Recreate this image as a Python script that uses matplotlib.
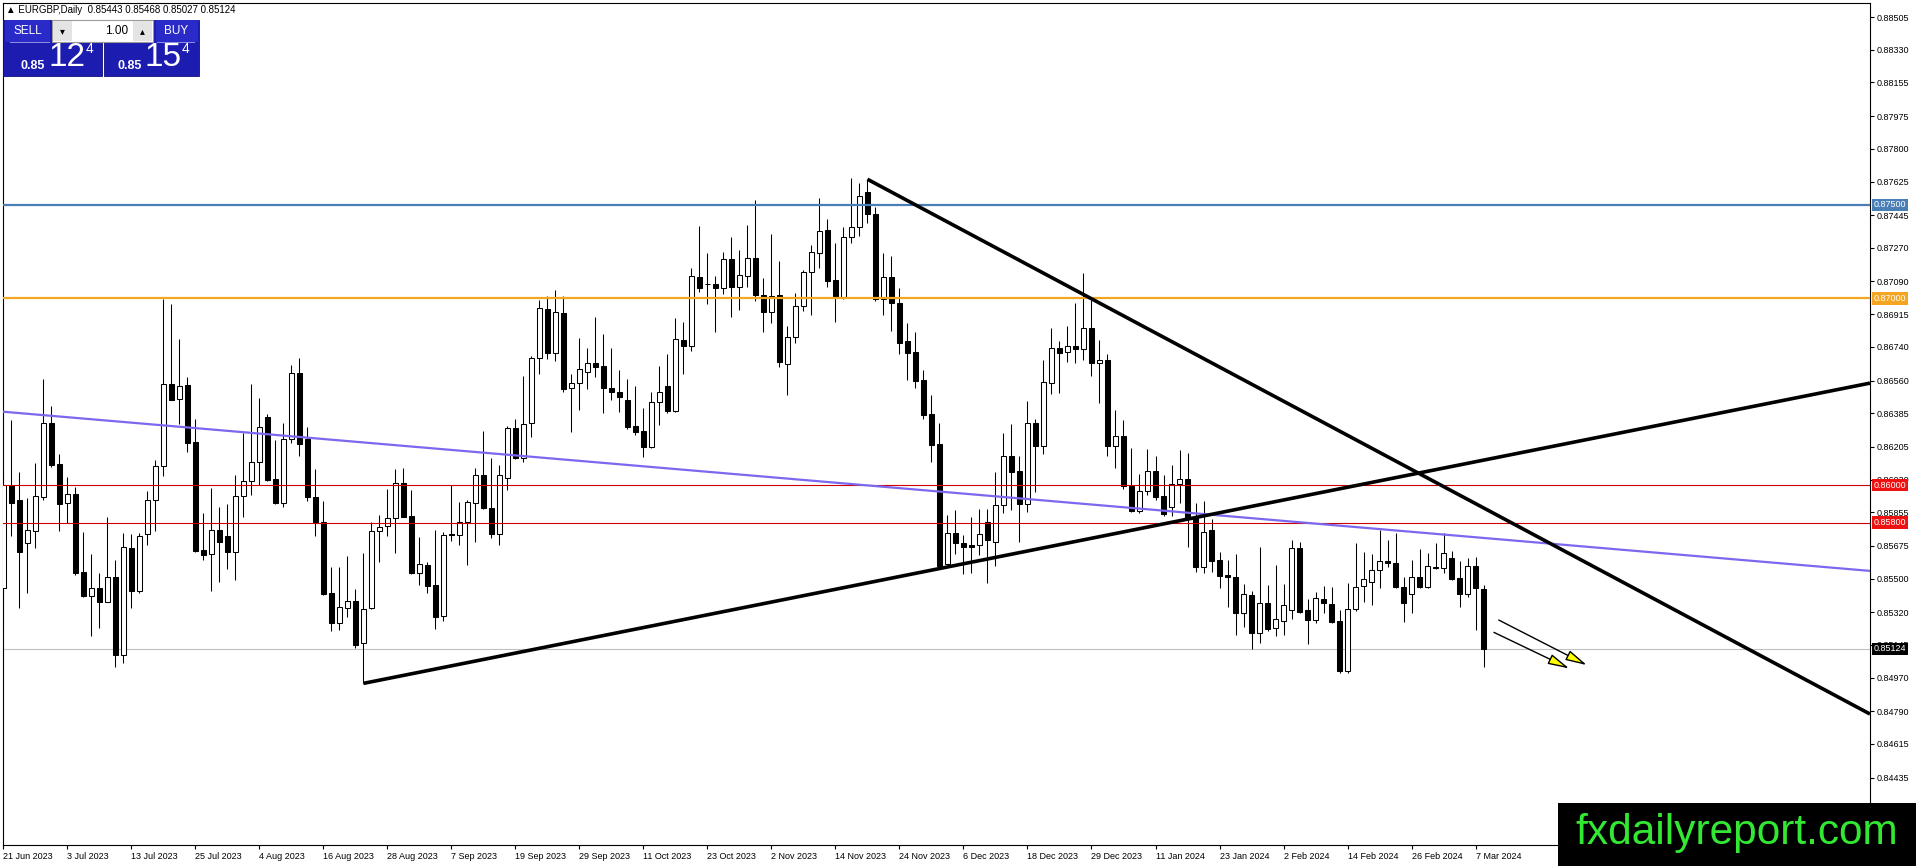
import matplotlib
matplotlib.use("Agg")
import matplotlib.pyplot as plt
from matplotlib.patches import Rectangle, FancyArrowPatch
import numpy as np
import pandas as pd

plt.rcParams['font.family'] = ['Liberation Sans', 'DejaVu Sans']


# trading days (MT4 has no Christmas / New Year bars)
dates = pd.bdate_range("2023-06-21", "2024-03-08")
dates = dates[~dates.isin(pd.to_datetime(["2023-12-25", "2024-01-01"]))]

# OHLC
opens = [
    0.85450, 0.86000, 0.85918, 0.85690, 0.85757, 0.85939, 0.86332, 0.86114, 0.85907, 0.85952,
    0.85534, 0.85404, 0.85449, 0.85377, 0.85508, 0.85092, 0.85663, 0.85431, 0.85738, 0.85922,
    0.86100, 0.86541, 0.86460, 0.86535, 0.86230, 0.85654, 0.85632, 0.85761, 0.85728, 0.85644,
    0.85942, 0.86021, 0.86122, 0.86363, 0.86031, 0.85906, 0.86247, 0.86599, 0.86247, 0.85935,
    0.85805, 0.85421, 0.85264, 0.85341, 0.85382, 0.85154, 0.85341, 0.85757, 0.85783, 0.85822,
    0.86010, 0.85835, 0.85528, 0.85572, 0.85466, 0.85300, 0.85737, 0.85733, 0.85805, 0.85903,
    0.86055, 0.85876, 0.85737, 0.86037, 0.86305, 0.86144, 0.86331, 0.86679, 0.86943, 0.86709,
    0.86920, 0.86519, 0.86546, 0.86608, 0.86652, 0.86638, 0.86519, 0.86501, 0.86456, 0.86317,
    0.86290, 0.86206, 0.86443, 0.86531, 0.86399, 0.86777, 0.86747, 0.87113, 0.87075, 0.87075,
    0.87054, 0.87209, 0.87059, 0.87120, 0.87214, 0.87015, 0.86926, 0.87015, 0.86649, 0.86792,
    0.86961, 0.87140, 0.87241, 0.87366, 0.87098, 0.87006, 0.87327, 0.87380, 0.87571, 0.87450,
    0.86995, 0.87113, 0.86977, 0.86772, 0.86711, 0.86563, 0.86381, 0.86220, 0.85578, 0.85746,
    0.85689, 0.85680, 0.85680, 0.85805, 0.85698, 0.85894, 0.86156, 0.86077, 0.85899, 0.86331,
    0.86211, 0.86545, 0.86733, 0.86715, 0.86742, 0.86731, 0.86840, 0.86656, 0.86670, 0.86210,
    0.86264, 0.85995, 0.85863, 0.85970, 0.86078, 0.85942, 0.85881, 0.86004, 0.86031, 0.85828,
    0.85560, 0.85760, 0.85600, 0.85519, 0.85510, 0.85318, 0.85412, 0.85207, 0.85368, 0.85234,
    0.85275, 0.85332, 0.85662, 0.85332, 0.85278, 0.85390, 0.85363, 0.85273, 0.85007, 0.85336,
    0.85462, 0.85484, 0.85546, 0.85594, 0.85582, 0.85453, 0.85417, 0.85510, 0.85457, 0.85564,
    0.85555, 0.85608, 0.85501, 0.85416, 0.85569, 0.85443,
]
highs = [
    0.86060, 0.86350, 0.86071, 0.85930, 0.86121, 0.86569, 0.86425, 0.86168, 0.86043, 0.85989,
    0.85748, 0.85632, 0.85529, 0.85829, 0.85600, 0.85743, 0.85739, 0.85743, 0.85970, 0.86136,
    0.86996, 0.86971, 0.86782, 0.86578, 0.86353, 0.85850, 0.85984, 0.85882, 0.85899, 0.86055,
    0.86277, 0.86541, 0.86468, 0.86380, 0.86242, 0.86331, 0.86643, 0.86679, 0.86310, 0.86085,
    0.85917, 0.85560, 0.85564, 0.85621, 0.85443, 0.85639, 0.85805, 0.85840, 0.85978, 0.86085,
    0.86094, 0.85974, 0.85722, 0.85591, 0.85760, 0.85751, 0.86001, 0.85912, 0.85921, 0.86090,
    0.86292, 0.86144, 0.86108, 0.86314, 0.86353, 0.86585, 0.86690, 0.86991, 0.87013, 0.87045,
    0.87013, 0.86595, 0.86790, 0.86736, 0.86902, 0.86807, 0.86733, 0.86617, 0.86567, 0.86531,
    0.86412, 0.86501, 0.86635, 0.86702, 0.86893, 0.86872, 0.87161, 0.87387, 0.87241, 0.87120,
    0.87246, 0.87327, 0.87256, 0.87393, 0.87527, 0.87111, 0.87345, 0.87200, 0.86852, 0.87027,
    0.87152, 0.87286, 0.87536, 0.87423, 0.87295, 0.87380, 0.87643, 0.87616, 0.87637, 0.87491,
    0.87241, 0.87227, 0.87054, 0.86866, 0.86818, 0.86617, 0.86483, 0.86335, 0.85840, 0.85867,
    0.85734, 0.85831, 0.85871, 0.85871, 0.86072, 0.86281, 0.86327, 0.86156, 0.86451, 0.86352,
    0.86670, 0.86840, 0.86773, 0.86852, 0.86974, 0.87134, 0.86991, 0.86777, 0.86700, 0.86400,
    0.86350, 0.86197, 0.86060, 0.86192, 0.86156, 0.86054, 0.86108, 0.86188, 0.86174, 0.85906,
    0.85915, 0.85817, 0.85644, 0.85600, 0.85631, 0.85471, 0.85433, 0.85667, 0.85466, 0.85573,
    0.85471, 0.85706, 0.85698, 0.85389, 0.85430, 0.85460, 0.85453, 0.85332, 0.85475, 0.85689,
    0.85644, 0.85632, 0.85760, 0.85706, 0.85742, 0.85507, 0.85600, 0.85657, 0.85639, 0.85692,
    0.85746, 0.85649, 0.85594, 0.85608, 0.85617, 0.85468,
]
lows = [
    0.85240, 0.85729, 0.85345, 0.85422, 0.85666, 0.85918, 0.86095, 0.85752, 0.85797, 0.85520,
    0.85400, 0.85193, 0.85238, 0.85377, 0.85029, 0.85047, 0.85342, 0.85422, 0.85681, 0.85757,
    0.86050, 0.86453, 0.86328, 0.86180, 0.85640, 0.85597, 0.85431, 0.85484, 0.85552, 0.85493,
    0.85831, 0.85947, 0.86001, 0.86024, 0.85899, 0.85885, 0.86228, 0.86158, 0.85917, 0.85730,
    0.85410, 0.85221, 0.85225, 0.85296, 0.85127, 0.84939, 0.85336, 0.85591, 0.85730, 0.85639,
    0.85828, 0.85524, 0.85466, 0.85421, 0.85228, 0.85275, 0.85703, 0.85680, 0.85573, 0.85694,
    0.85870, 0.85716, 0.85680, 0.85975, 0.86139, 0.86126, 0.86260, 0.86595, 0.86674, 0.86667,
    0.86501, 0.86287, 0.86403, 0.86515, 0.86581, 0.86385, 0.86456, 0.86394, 0.86299, 0.86269,
    0.86149, 0.86197, 0.86322, 0.86385, 0.86390, 0.86593, 0.86720, 0.87031, 0.86970, 0.86817,
    0.87024, 0.86898, 0.86938, 0.87059, 0.86988, 0.86817, 0.86870, 0.86631, 0.86483, 0.86760,
    0.86934, 0.86911, 0.87161, 0.87063, 0.86875, 0.86995, 0.87298, 0.87331, 0.87405, 0.86985,
    0.86911, 0.86827, 0.86700, 0.86563, 0.86519, 0.86352, 0.86126, 0.85564, 0.85573, 0.85632,
    0.85525, 0.85532, 0.85626, 0.85478, 0.85567, 0.85853, 0.85867, 0.85698, 0.85858, 0.85965,
    0.86165, 0.86488, 0.86495, 0.86661, 0.86652, 0.86670, 0.86584, 0.86442, 0.86156, 0.86090,
    0.85978, 0.85858, 0.85853, 0.85947, 0.85920, 0.85835, 0.85835, 0.85903, 0.85667, 0.85537,
    0.85532, 0.85537, 0.85451, 0.85350, 0.85198, 0.85242, 0.85121, 0.85157, 0.85221, 0.85193,
    0.85198, 0.85282, 0.85318, 0.85150, 0.85260, 0.85314, 0.85260, 0.84993, 0.84996, 0.85328,
    0.85376, 0.85359, 0.85448, 0.85560, 0.85448, 0.85270, 0.85314, 0.85448, 0.85448, 0.85550,
    0.85532, 0.85493, 0.85346, 0.85400, 0.85225, 0.85027,
]
closes = [
    0.86000, 0.85907, 0.85640, 0.85761, 0.85943, 0.86332, 0.86109, 0.85898, 0.85952, 0.85532,
    0.85404, 0.85449, 0.85377, 0.85508, 0.85092, 0.85668, 0.85431, 0.85729, 0.85922, 0.86103,
    0.86541, 0.86457, 0.86532, 0.86228, 0.85650, 0.85627, 0.85761, 0.85698, 0.85644, 0.85942,
    0.86021, 0.86122, 0.86310, 0.86028, 0.85903, 0.86247, 0.86599, 0.86219, 0.85935, 0.85805,
    0.85417, 0.85264, 0.85350, 0.85382, 0.85145, 0.85336, 0.85757, 0.85778, 0.85822, 0.86013,
    0.85832, 0.85528, 0.85576, 0.85460, 0.85296, 0.85733, 0.85732, 0.85805, 0.85908, 0.86055,
    0.85876, 0.85737, 0.86055, 0.86305, 0.86144, 0.86326, 0.86679, 0.86947, 0.86709, 0.86925,
    0.86515, 0.86546, 0.86620, 0.86652, 0.86634, 0.86519, 0.86501, 0.86474, 0.86313, 0.86287,
    0.86206, 0.86443, 0.86501, 0.86399, 0.86781, 0.86747, 0.87120, 0.87054, 0.87077, 0.87054,
    0.87209, 0.87059, 0.87122, 0.87214, 0.87015, 0.86926, 0.87013, 0.86658, 0.86792, 0.86959,
    0.87140, 0.87247, 0.87361, 0.87095, 0.87006, 0.87327, 0.87380, 0.87548, 0.87450, 0.86995,
    0.87113, 0.86974, 0.86763, 0.86709, 0.86559, 0.86376, 0.86215, 0.85567, 0.85746, 0.85692,
    0.85671, 0.85671, 0.85737, 0.85707, 0.85894, 0.86156, 0.86072, 0.85899, 0.86331, 0.86211,
    0.86550, 0.86733, 0.86706, 0.86742, 0.86731, 0.86840, 0.86656, 0.86670, 0.86210, 0.86264,
    0.85995, 0.85863, 0.85970, 0.86078, 0.85938, 0.85845, 0.86004, 0.86031, 0.85817, 0.85560,
    0.85751, 0.85596, 0.85516, 0.85507, 0.85318, 0.85417, 0.85207, 0.85368, 0.85230, 0.85282,
    0.85359, 0.85662, 0.85323, 0.85278, 0.85394, 0.85368, 0.85270, 0.85007, 0.85336, 0.85457,
    0.85496, 0.85546, 0.85594, 0.85582, 0.85453, 0.85368, 0.85510, 0.85453, 0.85569, 0.85555,
    0.85635, 0.85498, 0.85416, 0.85569, 0.85448, 0.85124,
]

# horizontal levels
levels = [0.87500, 0.87000, 0.86000, 0.85800]
level_colors = ['#4a7fb5', '#f4a623', '#d00000', '#d00000']
level_box_colors = ['#4a7fb5', '#f4a623', '#ee1111', '#ee1111']
level_widths = [1.6, 1.6, 0.8, 0.8]

# drawn trend lines (bar index, price)
purple_bars = [-0.04, 233.3]
purple_prices = [0.86393, 0.85541]
support_bars = [45, 233.3]
support_prices = [0.84939, 0.86546]
resist_bars = [108, 233.3]
resist_prices = [0.87637, 0.84775]

# arrows (start bar, start price, end bar, end price)
arrow_bars = [(186.9, 197.9), (186.3, 195.7)]
arrow_prices = [(0.85278, 0.85037), (0.85212, 0.85019)]

price_ticks = [0.88505, 0.88330, 0.88155, 0.87975, 0.87800, 0.87625, 0.87445, 0.87270,
               0.87090, 0.86915, 0.86740, 0.86560, 0.86385, 0.86205, 0.86030, 0.85855,
               0.85675, 0.85500, 0.85320, 0.85145, 0.84970, 0.84790, 0.84615, 0.84435]


# figure
W, H = 1916, 866
fig = plt.figure(figsize=(W / 100, H / 100), dpi=100)
ax = fig.add_axes([2.7 / W, (H - 845) / H, (1870 - 2.7) / W, (845 - 2.7) / H])

x = np.arange(len(dates))
o = np.array(opens)
c = np.array(closes)
up = c >= o
body = np.maximum(np.abs(c - o), 0.000015)

ax.vlines(x, lows, highs, color='black', lw=0.75, zorder=2)
ax.bar(x[up], body[up], bottom=o[up], width=0.6, facecolor='white',
       edgecolor='black', lw=0.75, zorder=3)
ax.bar(x[~up], body[~up], bottom=c[~up], width=0.6, facecolor='black',
       edgecolor='black', lw=0.75, zorder=3)

for lv, col, lw in zip(levels, level_colors, level_widths):
    ax.axhline(lv, color=col, lw=lw, zorder=4)
ax.axhline(closes[-1], color='#c0c0c0', lw=0.8, zorder=1)

ax.plot(purple_bars, purple_prices, color='#7b68ee', lw=1.6, zorder=5)
ax.plot(support_bars, support_prices, color='black', lw=2.6, zorder=6, solid_capstyle='butt')
ax.plot(resist_bars, resist_prices, color='black', lw=2.6, zorder=6, solid_capstyle='butt')

for (xa, xb), (ya, yb) in zip(arrow_bars, arrow_prices):
    ax.add_patch(FancyArrowPatch((xa, ya), (xb, yb),
                                 arrowstyle='-|>,head_length=1.3,head_width=0.32',
                                 mutation_scale=10, lw=1.0, shrinkA=0, shrinkB=0,
                                 facecolor='#ffff00', edgecolor='black', zorder=7))

ax.set_xlim(-0.08, 233.3)
ax.set_ylim(0.84074, 0.88582)

# axes / ticks
ax.yaxis.tick_right()
ax.set_yticks(price_ticks)
ax.set_yticklabels([f"{t:.5f}" for t in price_ticks])
ax.tick_params(axis='y', direction='out', length=3, width=0.8, pad=2, labelsize=6.5)

tick_idx = x[::8]
ax.set_xticks(tick_idx)
ax.set_xticklabels([f"{dates[i].day} {dates[i].strftime('%b %Y')}" for i in tick_idx], ha='left')
ax.tick_params(axis='x', direction='out', length=3, width=0.8, pad=2, labelsize=6.5)
for sp in ax.spines.values():
    sp.set_linewidth(0.8)

# price boxes on the right scale
for lv, col in zip(levels, level_box_colors):
    ax.text(1 + 3.5 / 1867, lv, f"{lv:.5f}", transform=ax.get_yaxis_transform(),
            ha='left', va='center', fontsize=6.5, color='white', clip_on=False, zorder=10,
            bbox=dict(boxstyle='square,pad=0.2', fc=col, ec='none'))
ax.text(1 + 3.5 / 1867, closes[-1], f"{closes[-1]:.5f}", transform=ax.get_yaxis_transform(),
        ha='left', va='center', fontsize=6.5, color='white', clip_on=False, zorder=10,
        bbox=dict(boxstyle='square,pad=0.2', fc='black', ec='none'))


# header and one-click panel (pixel coordinates, top-left origin)
def box(x0, y0, w, h, **kw):
    fig.add_artist(Rectangle((x0 / W, 1 - (y0 + h) / H), w / W, h / H,
                             transform=fig.transFigure, **kw))


def ftext(xp, yp, s, **kw):
    fig.text(xp / W, 1 - yp / H, s, **kw)


ftext(6, 10, f"▲ EURGBP,Daily  {opens[-1]:.5f} {highs[-1]:.5f} {lows[-1]:.5f} {closes[-1]:.5f}",
      fontsize=7, va='center', ha='left')

box(3, 20, 99, 56, fc='#1c1cb0', ec='#10107a', lw=0.6, zorder=20)
box(104, 20, 95, 56, fc='#1c1cb0', ec='#10107a', lw=0.6, zorder=20)
box(5, 20, 45, 22, fc='#2a2ac8', ec='none', zorder=21)
box(156, 20, 42, 22, fc='#2a2ac8', ec='none', zorder=21)
box(10, 42, 40, 0.8, fc='#8c8ce0', ec='none', zorder=22)
box(157, 42, 38, 0.8, fc='#8c8ce0', ec='none', zorder=22)
box(52, 20, 101, 22, fc='white', ec='#9a9a9a', lw=0.8, zorder=22)
box(53, 21, 19, 20, fc='#e4e4e4', ec='none', zorder=23)
box(133, 21, 19, 20, fc='#e4e4e4', ec='none', zorder=23)
ftext(62, 31, "▾", fontsize=7, ha='center', va='center', zorder=24, family=['DejaVu Sans'])
ftext(142, 31, "▴", fontsize=7, ha='center', va='center', zorder=24, family=['DejaVu Sans'])
ftext(128, 31, "1.00", fontsize=8.5, ha='right', va='center', zorder=24)
ftext(28, 31, "SELL", fontsize=8.5, ha='center', va='center', color='white', zorder=24)
ftext(176, 31, "BUY", fontsize=8.5, ha='center', va='center', color='white', zorder=24)
ftext(33, 66, "0.85", fontsize=9, ha='center', va='center', color='white', weight='bold', zorder=24)
ftext(67, 58, "12", fontsize=24, ha='center', va='center', color='white', zorder=24)
ftext(89, 49, "4", fontsize=10, ha='center', va='center', color='white', zorder=24)
ftext(130, 66, "0.85", fontsize=9, ha='center', va='center', color='white', weight='bold', zorder=24)
ftext(163, 58, "15", fontsize=24, ha='center', va='center', color='white', zorder=24)
ftext(185, 49, "4", fontsize=10, ha='center', va='center', color='white', zorder=24)

# watermark
box(1558, 803, 358, 63, fc='black', ec='none', zorder=30)
ftext(1737, 833, "fxdailyreport.com", fontsize=30.5, ha='center', va='center',
      color='#33e833', zorder=31)

fig.savefig("out.png", dpi=100)
